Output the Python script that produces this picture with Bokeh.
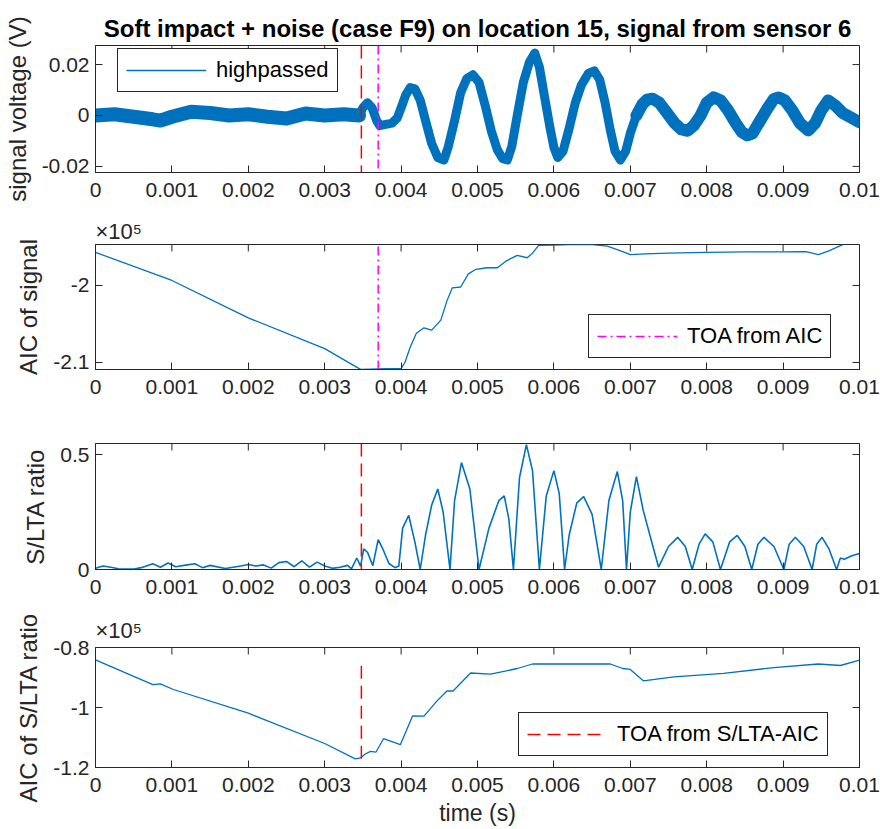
import math
from bokeh.plotting import figure
from bokeh.layouts import column
from bokeh.models import (Range1d, FixedTicker, CustomJSTickFormatter, Span, Legend,
                          LegendItem, Title)
from bokeh.embed import file_html
from bokeh.resources import INLINE

FONT = "Liberation Sans"
BLUE = "#0072BD"
AXC = "#262626"

# ---------------- data ----------------
x_ticks = [0, 0.001, 0.002, 0.003, 0.004, 0.005, 0.006, 0.007, 0.008, 0.009, 0.01]
x_lim = [0, 0.01]

toa_slta = 0.00348   # TOA from S/LTA-AIC (s)
toa_aic = 0.00370    # TOA from AIC (s)

# highpassed signal (V): pre-arrival noise part
t_noise = [0, 0.00025, 0.0005, 0.00075, 0.00085, 0.001, 0.00125, 0.0015, 0.00175,
           0.002, 0.00225, 0.0025, 0.00275, 0.003, 0.00325, 0.00345]
v_noise = [0.0, 0.0005, -0.0005, -0.0015, -0.002, -0.0005, 0.0015, 0.001, 0.0,
           0.0005, -0.0005, -0.0012, 0.0008, 0.0, 0.0005, 0.0]

# highpassed signal (V): after arrival
t_sig = [0.00345, 0.0035, 0.00356, 0.00362, 0.00368, 0.00372, 0.0038, 0.00388, 0.00395,
         0.004, 0.00406, 0.00412, 0.00418, 0.00425, 0.00432, 0.0044, 0.00448, 0.00456,
         0.00462, 0.0047, 0.00478, 0.00486, 0.00494, 0.00502, 0.0051, 0.00518, 0.00526,
         0.00533, 0.00539, 0.00545, 0.00552, 0.0056, 0.00568, 0.00575, 0.00581, 0.00588,
         0.00595, 0.006, 0.00605, 0.00612, 0.0062, 0.00628, 0.00636, 0.00645, 0.00653,
         0.0066, 0.00667, 0.00674, 0.0068, 0.00687, 0.00694, 0.007, 0.00708, 0.00716,
         0.00722, 0.00729, 0.00738, 0.00748, 0.00758, 0.00767, 0.00775, 0.00783, 0.00792,
         0.008, 0.00809, 0.00818, 0.00828, 0.00838, 0.00846, 0.00853, 0.0086, 0.0087,
         0.0088, 0.00888, 0.00894, 0.00902, 0.00912, 0.00922, 0.00933, 0.00942, 0.0095,
         0.00959, 0.00968, 0.00978, 0.0099, 0.01]
v_sig = [0.0, 0.003, 0.005, 0.003, -0.002, -0.004, -0.0035, -0.003, -0.001,
         0.003, 0.008, 0.011, 0.0105, 0.006, -0.002, -0.011, -0.0165, -0.0175,
         -0.012, -0.002, 0.009, 0.0145, 0.016, 0.013, 0.004, -0.006, -0.0135,
         -0.017, -0.0175, -0.012, 0.0, 0.013, 0.021, 0.0245, 0.019, 0.007,
         -0.005, -0.0125, -0.0165, -0.014, -0.005, 0.005, 0.012, 0.0165, 0.0175,
         0.014, 0.005, -0.006, -0.014, -0.0175, -0.014, -0.007, 0.0, 0.0045,
         0.0062, 0.0066, 0.005, 0.001, -0.003, -0.0055, -0.006, -0.004, 0.0,
         0.005, 0.0071, 0.006, 0.002, -0.003, -0.0065, -0.0078, -0.007, -0.002,
         0.003, 0.0065, 0.0071, 0.006, 0.002, -0.003, -0.0059, -0.003, 0.002,
         0.0059, 0.004, 0.001, -0.001, -0.0027]
t_tail_start = 0.00708   # after this the noise band looks wider
sig_lim = [-0.0224, 0.0275]
sig_ticks = [-0.02, 0, 0.02]

# AIC of signal
t_aic = [0, 0.001, 0.002, 0.003, 0.0034, 0.00347, 0.0036, 0.0038, 0.004, 0.00405,
         0.00412, 0.0042, 0.0043, 0.0044, 0.00452, 0.0046, 0.00467, 0.00478, 0.00488,
         0.00498, 0.00512, 0.00526, 0.00538, 0.00552, 0.00565, 0.00572, 0.0058, 0.006,
         0.0062, 0.0065, 0.0067, 0.0069, 0.007, 0.0072, 0.0075, 0.008, 0.0085, 0.009,
         0.0093, 0.00946, 0.0096, 0.00978]
v_aic = [-195700, -199350, -204200, -208200, -210500, -210900, -210850, -210800,
         -210800, -210000, -208000, -206200, -205500, -205800, -204500, -202000,
         -200300, -200200, -198500, -197900, -197700, -197700, -196800, -196100,
         -196400, -195800, -194800, -194750, -194700, -194700, -194900, -195600,
         -196000, -195900, -195800, -195700, -195650, -195650, -195600, -196000,
         -195500, -194700]
aic_lim = [-210910, -194680]
aic_ticks = [-210000, -200000]

# S/LTA ratio
t_slta = [0, 0.0001, 0.0002, 0.0003, 0.0005, 0.0006, 0.00075, 0.00085, 0.00095, 0.00105,
          0.0012, 0.0013, 0.0014, 0.0015, 0.0017, 0.0019, 0.002, 0.0021, 0.0022, 0.0023,
          0.0024, 0.0025, 0.0026, 0.0027, 0.0028, 0.0029, 0.003, 0.0031, 0.0032, 0.0033,
          0.00335, 0.00342, 0.00347, 0.00351, 0.00356, 0.00363, 0.0037, 0.00376, 0.00384,
          0.00392, 0.00397, 0.00402, 0.0041, 0.00418, 0.00425, 0.00432, 0.0044, 0.00448,
          0.00455, 0.00464, 0.0047, 0.00479, 0.0049, 0.00502, 0.00515, 0.00528, 0.00535,
          0.00541, 0.00547, 0.00555, 0.00564, 0.00572, 0.00581, 0.0059, 0.006, 0.00607,
          0.00614, 0.0062, 0.0063, 0.00639, 0.0065, 0.00662, 0.00672, 0.00683, 0.0069,
          0.00695, 0.007, 0.00708, 0.00717, 0.0073, 0.00737, 0.0075, 0.00762, 0.00772,
          0.00781, 0.0079, 0.00798, 0.00808, 0.00818, 0.0083, 0.0084, 0.0085, 0.00859,
          0.00867, 0.00875, 0.00888, 0.00901, 0.00908, 0.00916, 0.00927, 0.00938, 0.00944,
          0.00951, 0.0096, 0.0097, 0.00975, 0.0098, 0.0099, 0.01]
v_slta = [0.005, 0.015, 0.01, 0.003, 0.002, 0.008, 0.025, 0.01, 0.028, 0.012,
          0.02, 0.025, 0.008, 0.018, 0.004, 0.015, 0.022, 0.015, 0.02, 0.006,
          0.03, 0.035, 0.012, 0.038, 0.01, 0.032, 0.015, 0.005, 0.01, 0.018,
          0.003, 0.05, 0.015, 0.09, 0.075, 0.017, 0.13, 0.09, 0.026,
          0.008, 0.015, 0.18, 0.235, 0.12, 0.0, 0.15, 0.28, 0.35,
          0.25, 0.0, 0.3, 0.465, 0.35, 0.0, 0.18, 0.3, 0.32,
          0.22, 0.0, 0.4, 0.543, 0.43, 0.0, 0.32, 0.43, 0.33,
          0.0, 0.15, 0.29, 0.317, 0.24, 0.0, 0.3, 0.426, 0.3,
          0.0, 0.25, 0.404, 0.256, 0.096, 0.01, 0.1, 0.14, 0.1,
          0.0, 0.11, 0.155, 0.12, 0.0, 0.12, 0.148, 0.1, 0.0,
          0.11, 0.14, 0.1, 0.0, 0.11, 0.14, 0.1, 0.0, 0.11,
          0.14, 0.09, 0.0, 0.05, 0.045, 0.06, 0.07]
slta_lim = [0, 0.548]
slta_ticks = [0, 0.5]

# AIC of S/LTA ratio
t_aic2 = [0, 0.00075, 0.00085, 0.00102, 0.002, 0.003, 0.0034, 0.00347, 0.00353, 0.0036,
          0.00367, 0.00377, 0.00399, 0.00415, 0.0043, 0.00447, 0.0046, 0.00468, 0.00491,
          0.00517, 0.00552, 0.00572, 0.00674, 0.0069, 0.007, 0.00717, 0.00757, 0.00822,
          0.00888, 0.00946, 0.00975, 0.01]
v_aic2 = [-84100, -92400, -92100, -94000, -101900, -112000, -117100, -116800, -115500,
          -114600, -114900, -110400, -112400, -102800, -102900, -97800, -94500, -94500,
          -88500, -88900, -87000, -85500, -85500, -87000, -87300, -91100, -89800, -88600,
          -86700, -85500, -86000, -84200]
aic2_lim = [-120000, -80000]
aic2_ticks = [-120000, -100000, -80000]

# ---------------- styling helpers ----------------
xfmt = CustomJSTickFormatter(code="return parseFloat(tick.toFixed(6)).toString();")
yfmt = CustomJSTickFormatter(code="return parseFloat(tick.toFixed(6)).toString();")
sfmt = CustomJSTickFormatter(code="return parseFloat((tick/1e5).toFixed(4)).toString();")


def make_fig(height, top, bottom, ylim, yticks, ylabel, yformatter, xlabel=None):
    p = figure(width=880, height=height, x_range=Range1d(x_lim[0], x_lim[1]),
               y_range=Range1d(ylim[0], ylim[1]), output_backend="svg",
               toolbar_location=None, tools="", min_border_left=95, min_border_right=21,
               min_border_top=top, min_border_bottom=bottom)
    p.xgrid.visible = False
    p.ygrid.visible = False
    p.outline_line_color = AXC
    p.outline_line_alpha = 1
    p.outline_line_width = 1
    p.background_fill_color = "white"
    p.border_fill_color = "white"
    p.xaxis.ticker = FixedTicker(ticks=x_ticks)
    p.xaxis.formatter = xfmt
    p.yaxis.ticker = FixedTicker(ticks=yticks)
    p.yaxis.formatter = yformatter
    for ax in (p.xaxis[0], p.yaxis[0]):
        ax.major_tick_in = 7
        ax.major_tick_out = 0
        ax.minor_tick_in = 0
        ax.minor_tick_out = 0
        ax.axis_line_color = AXC
        ax.major_tick_line_color = AXC
        ax.major_label_text_font = FONT
        ax.major_label_text_font_size = "21px"
        ax.major_label_text_color = AXC
        ax.axis_label_text_font = FONT
        ax.axis_label_text_font_style = "normal"
        ax.axis_label_text_color = AXC
    p.xaxis.major_label_standoff = 10
    p.yaxis.major_label_standoff = 6
    p.yaxis.axis_label = ylabel
    p.yaxis.axis_label_text_font_size = "24px"
    p.yaxis.axis_label_standoff = 8
    if xlabel:
        p.xaxis.axis_label = xlabel
        p.xaxis.axis_label_text_font_size = "23px"
        p.xaxis.axis_label_standoff = 5
    # inward tick marks on the top and right edges of the box (clipped to the frame)
    p.scatter(x_ticks, [ylim[1]] * len(x_ticks), marker="dash", angle=math.pi / 2,
              size=14, line_color=AXC, line_width=1)
    p.scatter([x_lim[1]] * len(yticks), yticks, marker="dash", angle=0,
              size=14, line_color=AXC, line_width=1)
    return p


def style_legend(leg):
    leg.border_line_color = AXC
    leg.border_line_width = 1
    leg.border_line_alpha = 1
    leg.background_fill_color = "white"
    leg.background_fill_alpha = 1
    leg.label_text_font = FONT
    leg.label_text_font_size = "22px"
    leg.label_text_color = "black"
    leg.glyph_width = 80
    leg.glyph_height = 20
    leg.label_height = 20
    leg.label_standoff = 10
    leg.padding = 8
    leg.margin = 0
    leg.spacing = 0


def mult_title(text, standoff):
    return Title(text=text, align="left", text_font=FONT, text_font_size="22px",
                 text_font_style="normal", text_color=AXC, standoff=standoff)


# ---------------- subplot 1 ----------------
p1 = make_fig(215, 45, 43, sig_lim, sig_ticks, "signal voltage (V)", yfmt)
p1.title.text = "Soft impact + noise (case F9) on location 15, signal from sensor 6"
p1.title.align = "center"
p1.title.text_font = FONT
p1.title.text_font_size = "24px"
p1.title.text_font_style = "bold"
p1.title.text_color = "black"
p1.title.standoff = 8
p1.line(t_noise, v_noise, line_color=BLUE, line_width=14, line_join="round", line_cap="round")
i_tail = next(i for i, t in enumerate(t_sig) if t >= t_tail_start)
p1.line(t_sig[:i_tail + 1], v_sig[:i_tail + 1], line_color=BLUE, line_width=9,
        line_join="round", line_cap="round")
p1.line(t_sig[i_tail:], v_sig[i_tail:], line_color=BLUE, line_width=12,
        line_join="round", line_cap="round")
# one-point line: draws nothing in the plot, gives the thin legend sample
r_leg = p1.line(t_noise[:1], v_noise[:1], line_color=BLUE, line_width=1.5)
p1.add_layout(Span(location=toa_slta, dimension="height", line_color="#FF0000",
                   line_width=1.5, line_dash="13 7"))
p1.add_layout(Span(location=toa_aic, dimension="height", line_color="#FF00FF",
                   line_width=1.5, line_dash="9 4 2 4"))
leg1 = Legend(items=[LegendItem(label="highpassed", renderers=[r_leg])], location=(22, 80))
style_legend(leg1)
p1.add_layout(leg1)

# ---------------- subplot 2 ----------------
p2 = make_fig(200, 29, 46, aic_lim, aic_ticks, "AIC of signal", sfmt)
p2.add_layout(mult_title("×10⁵", 2), "above")
p2.line(t_aic, v_aic, line_color=BLUE, line_width=1.3)
r_aic = p2.line([toa_aic, toa_aic], [min(v_aic), max(v_aic)], line_color="#FF00FF",
                line_width=1.5, line_dash="9 4 2 4")
leg2 = Legend(items=[LegendItem(label="TOA from AIC", renderers=[r_aic])], location=(493, 11))
style_legend(leg2)
p2.add_layout(leg2)

# ---------------- subplot 3 ----------------
p3 = make_fig(195, 28, 41, slta_lim, slta_ticks, "S/LTA ratio", yfmt)
p3.line(t_slta, v_slta, line_color=BLUE, line_width=1.6)
p3.add_layout(Span(location=toa_slta, dimension="height", line_color="#FF0000",
                   line_width=1.5, line_dash="13 7"))

# ---------------- subplot 4 ----------------
p4 = make_fig(219, 31, 62, aic2_lim, aic2_ticks, "AIC of S/LTA ratio", sfmt, xlabel="time (s)")
p4.add_layout(mult_title("×10⁵", 10), "above")
p4.line(t_aic2, v_aic2, line_color=BLUE, line_width=1.3)
r_slta = p4.line([toa_slta, toa_slta], [min(v_aic2), max(v_aic2)], line_color="#FF0000",
                 line_width=1.5, line_dash="13 7")
leg4 = Legend(items=[LegendItem(label="TOA from S/LTA-AIC", renderers=[r_slta])],
              location=(423, 11))
style_legend(leg4)
p4.add_layout(leg4)

layout = column(p1, p2, p3, p4, spacing=0)
open("out.html", "w").write(file_html(layout, INLINE))
